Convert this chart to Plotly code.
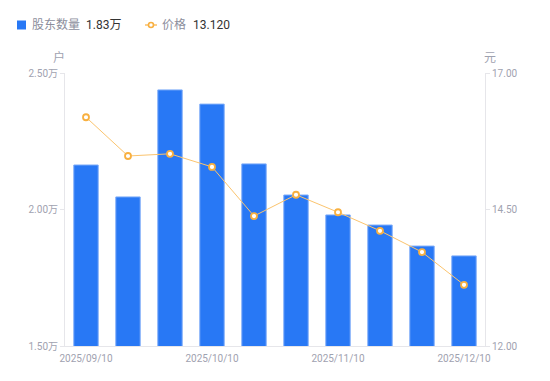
import plotly.graph_objects as go

dates = ["2025/09/10", "2025/09/20", "2025/09/30", "2025/10/10", "2025/10/20",
         "2025/10/31", "2025/11/10", "2025/11/20", "2025/11/30", "2025/12/10"]
holders = [2.163, 2.046, 2.438, 2.386, 2.167, 2.053, 1.980, 1.943, 1.866, 1.830]  # 万户
prices = [16.19, 15.48, 15.52, 15.28, 14.38, 14.77, 14.45, 14.11, 13.72, 13.12]
left_ticks = [1.5, 2.0, 2.5]
left_ticktext = ["1.50万", "2.00万", "2.50万"]
right_ticks = [12.0, 14.5, 17.0]
right_ticktext = ["12.00", "14.50", "17.00"]
x_ticks = [dates[0], dates[3], dates[6], dates[9]]

BLUE = "#2878f5"
ORANGE = "#f8b040"
GRAY = "#9fa2b0"
font = "Roboto, Noto Sans CJK SC, sans-serif"

# page has an 8px body margin: figure 542x373 placed at (8,8)
L, R, T, B = 57, 65, 65, 35
PW, PH = 542 - L - R, 373 - T - B


def px(x):
    return (x - 8 - L) / PW


def py(y):
    return (373 - B - (y - 8)) / PH


fig = go.Figure()
fig.add_trace(go.Bar(
    x=dates, y=holders, name="股东数量",
    marker=dict(color=BLUE, line=dict(color="#7aaaf8", width=1)),
    width=0.58, yaxis="y", showlegend=False))
fig.add_trace(go.Scatter(
    x=dates, y=prices, name="价格", yaxis="y2",
    mode="lines+markers", showlegend=False,
    line=dict(color="#fbc46e", width=1),
    marker=dict(symbol="circle", size=6, color="white", line=dict(color=ORANGE, width=1.8))))

shapes = [
    dict(type="rect", xref="paper", yref="paper", x0=px(17), x1=px(26), y0=py(29.5), y1=py(20.5),
         fillcolor=BLUE, line=dict(width=0)),
    dict(type="line", xref="paper", yref="paper", x0=px(145), x1=px(157), y0=py(25), y1=py(25),
         line=dict(color=ORANGE, width=1.2)),
    dict(type="circle", xref="paper", yref="paper", x0=px(148.5), x1=px(153.5), y0=py(27.5), y1=py(22.5),
         fillcolor="white", line=dict(color=ORANGE, width=1.6)),
]

def ann(text, x, y, color, size=12, xanchor="left"):
    return dict(text=text, x=px(x), y=py(y), xref="paper", yref="paper", showarrow=False,
                xanchor=xanchor, yanchor="middle", font=dict(size=size, color=color))

annotations = [
    ann("股东数量", 30, 25, "#8c8e9c"),
    ann("1.83万", 84, 25, "#333333"),
    ann("价格", 160, 25, "#8c8e9c"),
    ann("13.120", 191, 25, "#333333"),
    ann("户", 59, 57, GRAY, xanchor="center"),
    ann("元", 490, 58, GRAY, xanchor="center"),
]

fig.update_layout(
    width=542, height=373,
    margin=dict(l=L, r=R, t=T, b=B, autoexpand=False),
    paper_bgcolor="white", plot_bgcolor="white",
    font=dict(family=font, size=10, color=GRAY),
    showlegend=False,
    xaxis=dict(type="category", tickmode="array", tickvals=x_ticks, ticktext=x_ticks,
               showgrid=False, showline=True, linecolor="#e6e6ea", linewidth=1,
               ticks="outside", ticklen=3, tickcolor="rgba(0,0,0,0)",
               tickfont=dict(size=10, color=GRAY), range=[-0.5, 9.5]),
    yaxis=dict(range=[1.5, 2.5], tickvals=left_ticks, ticktext=left_ticktext,
               showgrid=False, showline=True, linecolor="#e6e6ea", ticks="outside",
               ticklen=4, tickcolor="#e6e6ea", zeroline=False,
               tickfont=dict(size=10, color=GRAY)),
    yaxis2=dict(range=[12, 17], tickvals=right_ticks, ticktext=right_ticktext,
                overlaying="y", side="right", showgrid=False, showline=True,
                linecolor="#e6e6ea", ticks="outside", ticklen=4, tickcolor="#e6e6ea",
                zeroline=False, tickfont=dict(size=10, color=GRAY)),
    shapes=shapes,
    annotations=annotations,
)
fig.write_html("out.html")
